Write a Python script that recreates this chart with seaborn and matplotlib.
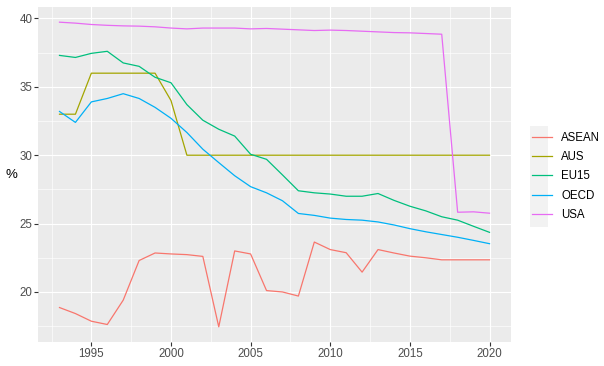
import numpy as np
import pandas as pd
import seaborn as sns
import matplotlib
matplotlib.use('Agg')
from matplotlib import pyplot as plt
from matplotlib.patches import Rectangle

years = list(range(1993, 2021))

asean = [18.86, 18.42, 17.86, 17.62, 19.4, 22.3, 22.85, 22.78, 22.73, 22.6,
         17.45, 23.0, 22.78, 20.1, 20.0, 19.7, 23.65, 23.1, 22.87, 21.45,
         23.1, 22.85, 22.62, 22.5, 22.35, 22.35, 22.35, 22.35]
aus = [33, 33, 36, 36, 36, 36, 36, 34, 30, 30,
       30, 30, 30, 30, 30, 30, 30, 30, 30, 30,
       30, 30, 30, 30, 30, 30, 30, 30]
eu15 = [37.3, 37.15, 37.45, 37.6, 36.75, 36.5, 35.7, 35.3, 33.7, 32.56,
        31.9, 31.4, 30.07, 29.7, 28.56, 27.4, 27.25, 27.16, 27.0, 27.0,
        27.2, 26.7, 26.27, 25.93, 25.5, 25.25, 24.8, 24.36]
oecd = [33.2, 32.4, 33.9, 34.15, 34.5, 34.15, 33.5, 32.7, 31.66, 30.44,
        29.46, 28.5, 27.7, 27.25, 26.67, 25.74, 25.6, 25.4, 25.3, 25.25,
        25.12, 24.9, 24.63, 24.4, 24.2, 24.0, 23.77, 23.53]
usa = [39.73, 39.66, 39.56, 39.5, 39.46, 39.44, 39.39, 39.3, 39.24, 39.3,
       39.3, 39.3, 39.24, 39.27, 39.22, 39.17, 39.12, 39.15, 39.12, 39.07,
       39.02, 38.97, 38.95, 38.9, 38.85, 25.83, 25.86, 25.76]

regions = ['ASEAN', 'AUS', 'EU15', 'OECD', 'USA']
colors = ['#F8766D', '#A3A500', '#00BF7D', '#00B0F6', '#E76BF3']

df = pd.DataFrame({'year': years, 'ASEAN': asean, 'AUS': aus,
                   'EU15': eu15, 'OECD': oecd, 'USA': usa})
df = df.melt(id_vars='year', var_name='region', value_name='rate')

plt.rcParams['font.family'] = ['Liberation Sans', 'DejaVu Sans']

W, H = 604, 366
fig = plt.figure(figsize=(W / 100, H / 100), dpi=100)
# panel box in pixels: left 38, right 511, top 7, bottom 342
ax = fig.add_axes([38 / W, 1 - 342 / H, (511 - 38) / W, (342 - 7) / H])
ax.set_facecolor('#EBEBEB')

sns.lineplot(data=df, x='year', y='rate', hue='region', hue_order=regions,
             palette=colors, linewidth=0.9, ax=ax)

ax.set_xlim(1991.65, 2021.35)
ax.set_ylim(16.34, 40.84)
ax.set_xticks([1995, 2000, 2005, 2010, 2015, 2020])
ax.set_xticks([1992.5, 1997.5, 2002.5, 2007.5, 2012.5, 2017.5], minor=True)
ax.set_yticks([20, 25, 30, 35, 40])
ax.set_yticks([17.5, 22.5, 27.5, 32.5, 37.5], minor=True)

ax.grid(which='major', color='white', linewidth=0.85)
ax.grid(which='minor', color='white', linewidth=0.45)
ax.set_axisbelow(True)
for s in ax.spines.values():
    s.set_visible(False)

ax.tick_params(which='major', length=2.6, width=0.8, color='#333333',
               labelcolor='#4D4D4D', labelsize=8.3, pad=2)
ax.tick_params(axis='y', pad=1.5)
ax.tick_params(which='minor', length=0)

ax.set_xlabel('')
ax.set_ylabel('%', rotation=0, fontsize=9.5, color='black')
ax.yaxis.set_label_coords(-0.057, 0.5)
ax.yaxis.label.set_ha('center')
ax.yaxis.label.set_va('center')

# legend with grey key background, no title
handles, labels = ax.get_legend_handles_labels()
leg = ax.legend(handles, labels, loc='upper left', frameon=False,
                bbox_to_anchor=(527 / W, 1 - 127 / H), bbox_transform=fig.transFigure,
                handlelength=1.75, handletextpad=0.75, labelspacing=0.62,
                fontsize=8.3, borderaxespad=0, borderpad=0.45)
for line in leg.get_lines():
    line.set_linewidth(0.9)

fig.patches.append(Rectangle((530 / W, 1 - 227 / H), 18 / W, 101 / H,
                             transform=fig.transFigure, facecolor='#F2F2F2',
                             edgecolor='none', zorder=-1))

fig.savefig('out.png', dpi=100)
